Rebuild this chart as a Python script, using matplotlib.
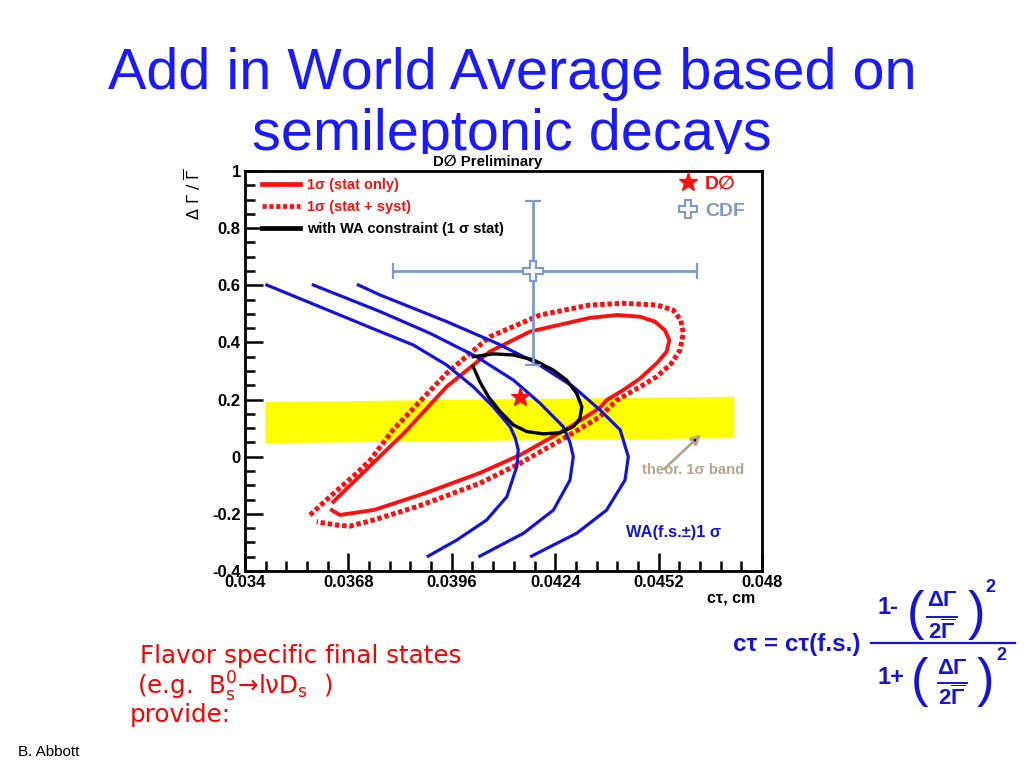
import matplotlib
matplotlib.use('Agg')
import matplotlib.pyplot as plt
from matplotlib.lines import Line2D
from matplotlib.patches import Rectangle
from matplotlib.ticker import AutoMinorLocator

plt.rcParams['font.family'] = ['Liberation Sans', 'DejaVu Sans']
plt.rcParams['mathtext.fontset'] = 'custom'
plt.rcParams['mathtext.rm'] = 'Liberation Sans:bold'
plt.rcParams['mathtext.it'] = 'Liberation Sans:bold'
plt.rcParams['mathtext.bf'] = 'Liberation Sans:bold'

# ---- data ----
# blue WA(f.s.) 1 sigma curves
wa1_x = [0.03459, 0.03766, 0.03856, 0.03946, 0.04018, 0.04072, 0.04118, 0.04132, 0.04140,
         0.04136, 0.04109, 0.04054, 0.03973, 0.03896]
wa1_y = [0.601, 0.438, 0.391, 0.321, 0.245, 0.175, 0.105, 0.065, 0.024,
         -0.035, -0.140, -0.222, -0.292, -0.348]
wa2_x = [0.03585, 0.03766, 0.03901, 0.04027, 0.04127, 0.04199, 0.04262, 0.04280, 0.04289,
         0.04280, 0.04235, 0.04154, 0.04036]
wa2_y = [0.601, 0.508, 0.432, 0.350, 0.268, 0.187, 0.105, 0.050, 0.000,
         -0.082, -0.187, -0.268, -0.348]
wa3_x = [0.03707, 0.03766, 0.03946, 0.04082, 0.04190, 0.04289, 0.04361, 0.04416,
         0.04438, 0.04429, 0.04379, 0.04298, 0.04176]
wa3_y = [0.601, 0.566, 0.473, 0.397, 0.327, 0.245, 0.164, 0.094,
         0.000, -0.082, -0.187, -0.268, -0.348]

# red 1 sigma (stat only)
stat_x = [0.03639, 0.03747, 0.03833, 0.03946, 0.04063, 0.04172, 0.04334, 0.04407,
          0.04470, 0.04510, 0.04537, 0.04549, 0.04542, 0.04515, 0.04470, 0.04424,
          0.04379, 0.04361, 0.04280, 0.04145, 0.04036, 0.03887, 0.03750, 0.03657,
          0.03635]
stat_y = [-0.158, -0.022, 0.086, 0.245, 0.368, 0.438, 0.486, 0.496,
          0.490, 0.473, 0.443, 0.408, 0.368, 0.327, 0.274, 0.233,
          0.198, 0.171, 0.104, 0.006, -0.057, -0.128, -0.186, -0.204,
          -0.187]

# red 1 sigma (stat + syst)
syst_x = [0.03576, 0.03630, 0.03702, 0.03739, 0.03801, 0.03946, 0.04063, 0.04199,
          0.04334, 0.04424, 0.04515, 0.04560, 0.04580, 0.04587, 0.04578, 0.04555,
          0.04515, 0.04470, 0.04407, 0.04361, 0.04271, 0.04145, 0.04036, 0.03901,
          0.03865, 0.03747, 0.03684, 0.03648, 0.03594]
syst_y = [-0.204, -0.140, -0.058, -0.012, 0.094, 0.292, 0.420, 0.496,
          0.531, 0.537, 0.531, 0.513, 0.478, 0.432, 0.373, 0.327,
          0.280, 0.245, 0.198, 0.140, 0.070, -0.023, -0.093, -0.158,
          -0.175, -0.222, -0.243, -0.239, -0.228]

# black: with WA constraint
wa_con_x = [0.04018, 0.04072, 0.04127, 0.04181, 0.04235, 0.04271, 0.04298, 0.04312,
            0.04307, 0.04289, 0.04253, 0.04208, 0.04163, 0.04127, 0.04091, 0.04059,
            0.04036, 0.04018]
wa_con_y = [0.350, 0.360, 0.356, 0.339, 0.303, 0.268, 0.222, 0.175,
            0.134, 0.105, 0.084, 0.080, 0.088, 0.111, 0.158, 0.210,
            0.262, 0.315]

# theory 1 sigma band
band_x = [0.03454, 0.04724]
band_lo = [0.049, 0.067]
band_hi = [0.193, 0.212]

# D0 point and CDF point
d0_x, d0_y = 0.04145, 0.210
cdf_x, cdf_y = 0.04179, 0.650
cdf_xerr = [[0.00378], [0.00445]]
cdf_yerr = [[0.329], [0.245]]

xticks = [0.034, 0.0368, 0.0396, 0.0424, 0.0452, 0.048]
xtick_labels = ['0.034', '0.0368', '0.0396', '0.0424', '0.0452', '0.048']
yticks = [-0.4, -0.2, 0, 0.2, 0.4, 0.6, 0.8, 1]
ytick_labels = ['-0.4', '-0.2', '0', '0.2', '0.4', '0.6', '0.8', '1']

RED = '#ff1010'
BLUE = '#1414dc'
CDFC = '#7b9bd2'
TITLEC = '#1a1aff'


def fx(x):
    return x / 1024.0


def fy(y):
    return 1 - y / 768.0


fig = plt.figure(figsize=(10.24, 7.68), dpi=100)
fig.patch.set_facecolor('white')

# title (bottom partly hidden behind the plot canvas, as in the slide)
fig.text(0.5, fy(89), 'Add in World Average based on', ha='center', va='baseline',
         fontsize=41.5, color=TITLEC, zorder=0.5)
fig.text(0.5, fy(150), 'semileptonic decays', ha='center', va='baseline',
         fontsize=41.5, color=TITLEC, zorder=0.5)
fig.patches.append(Rectangle((fx(180), fy(605)), fx(780) - fx(180), fy(154) - fy(605),
                             transform=fig.transFigure, facecolor='white',
                             edgecolor='none', zorder=1))

ax = fig.add_axes([fx(245), fy(571), fx(762) - fx(245), fy(171) - fy(571)])
ax.set_zorder(2)

ax.fill_between(band_x, band_lo, band_hi, color='#ffff00', lw=0, zorder=1)
l2, = ax.plot(syst_x, syst_y, color=RED, lw=3.6, ls=(0, (0.9, 0.55)), zorder=2,
              label='1σ (stat + syst)')
l1, = ax.plot(stat_x, stat_y, color=RED, lw=2.8, zorder=3, solid_joinstyle='round',
              label='1σ (stat only)')
for xs, ys in [(wa1_x, wa1_y), (wa2_x, wa2_y), (wa3_x, wa3_y)]:
    ax.plot(xs, ys, color=BLUE, lw=2.3, zorder=4, solid_joinstyle='round')
l3, = ax.plot(wa_con_x, wa_con_y, color='black', lw=2.4, zorder=5,
              solid_joinstyle='round', label='with WA constraint (1 σ stat)')

ax.errorbar([cdf_x], [cdf_y], xerr=cdf_xerr, yerr=cdf_yerr, fmt='P', ms=14,
            mfc='white', mec=CDFC, mew=1.6, ecolor=CDFC, elinewidth=2, capsize=6,
            capthick=2, zorder=6)
ax.plot([d0_x], [d0_y], marker='*', ms=14, color=RED, ls='none', zorder=7)

ax.annotate('', xy=(0.04635, 0.078), xytext=(0.04536, -0.042),
            arrowprops=dict(arrowstyle='-|>', mutation_scale=14, lw=2,
                            ec='#b8a58c', fc='black', shrinkA=0, shrinkB=0),
            zorder=6)
ax.text(0.04475, -0.047, 'theor. 1σ band', color='#b8a58c', fontsize=10.7,
        fontweight='bold', va='center', ha='left')
ax.text(0.04432, -0.264, 'WA(f.s.±)1 σ', color=BLUE, fontsize=11.8,
        fontweight='bold', va='center', ha='left')

ax.set_xlim(0.034, 0.048)
ax.set_ylim(-0.4, 1.0)
ax.set_xticks(xticks)
ax.set_xticklabels(xtick_labels)
ax.set_yticks(yticks)
ax.set_yticklabels(ytick_labels)
ax.xaxis.set_minor_locator(AutoMinorLocator(5))
ax.yaxis.set_minor_locator(AutoMinorLocator(4))
ax.tick_params(which='both', direction='in', width=1.8, labelsize=12)
ax.tick_params(which='major', length=13, pad=3)
ax.tick_params(which='minor', length=7)
for lab in ax.get_xticklabels() + ax.get_yticklabels():
    lab.set_fontweight('bold')
for sp in ax.spines.values():
    sp.set_linewidth(2)

leg1 = ax.legend(handles=[l1, l2, l3], loc='upper left', bbox_to_anchor=(0.033, 0.983),
                 frameon=False, handlelength=2.6, handletextpad=0.48, labelspacing=0.55,
                 borderpad=0, borderaxespad=0, prop={'weight': 'bold', 'size': 10.5})
for t, c in zip(leg1.get_texts(), [RED, RED, 'black']):
    t.set_color(c)
for h in leg1.legend_handles:
    h.set_linewidth(3.4)
ax.add_artist(leg1)

h_d0 = Line2D([], [], marker='*', ms=14, color=RED, ls='none')
h_cdf = Line2D([], [], marker='P', ms=13, mfc='white', mec=CDFC, mew=1.5, ls='none')
leg2 = ax.legend(handles=[h_d0, h_cdf], labels=['D∅', 'CDF'], loc='upper right',
                 bbox_to_anchor=(0.967, 0.99), frameon=False, handlelength=1.0,
                 handletextpad=0.4, labelspacing=0.5, borderpad=0, borderaxespad=0,
                 prop={'weight': 'bold', 'size': 14})
for t, c in zip(leg2.get_texts(), [RED, CDFC]):
    t.set_color(c)

ax.text(0.986, -0.068, 'cτ, cm', transform=ax.transAxes, ha='right', va='center',
        fontsize=11.5, fontweight='bold')

fig.text(fx(488), fy(162), 'D∅ Preliminary', ha='center', va='center', fontsize=10.8,
         fontweight='bold', zorder=3)
fig.text(fx(193), fy(168), r'$\Delta\ \Gamma\ /\ \overline{\Gamma}$', rotation=90,
         ha='center', va='top', fontsize=11.5, math_fontfamily='dejavusans', zorder=3)

# bottom text
red_txt = dict(color='#ff0000', fontsize=17.7, family=['DejaVu Sans'],
               math_fontfamily='dejavusans', va='baseline')
fig.text(fx(140), fy(663), 'Flavor specific final states', **red_txt)
fig.text(fx(137), fy(695), r'(e.g.  B$^0_\mathrm{s}$→lνD$_\mathrm{s}$  )', **red_txt)
fig.text(fx(130), fy(722), 'provide:', **red_txt)
fig.text(fx(18), fy(756), 'B. Abbott', fontsize=11, va='baseline', color='black')

# formula
fb = dict(color=BLUE, fontweight='bold', ha='center', va='center')
fig.text(fx(733), fy(645), 'cτ = cτ(f.s.)', color=BLUE, fontweight='bold', fontsize=17.5,
         ha='left', va='center')
fig.add_artist(Line2D([fx(871), fx(1015)], [fy(643), fy(643)], color=BLUE, lw=1.6))
fig.text(fx(888), fy(607), '1-', fontsize=17, **fb)
fig.text(fx(915), fy(615), '(', fontsize=38, color=BLUE, ha='center', va='center')
fig.text(fx(942), fy(601), r'$\Delta\Gamma$', fontsize=16, **fb)
fig.add_artist(Line2D([fx(927), fx(957)], [fy(617), fy(617)], color=BLUE, lw=1.4))
fig.text(fx(942), fy(632), r'$2\overline{\Gamma}$', fontsize=16, **fb)
fig.text(fx(976), fy(615), ')', fontsize=38, color=BLUE, ha='center', va='center')
fig.text(fx(990), fy(588), '2', fontsize=13, **fb)
fig.text(fx(891), fy(677), '1+', fontsize=17, **fb)
fig.text(fx(920), fy(682), '(', fontsize=38, color=BLUE, ha='center', va='center')
fig.text(fx(952), fy(668), r'$\Delta\Gamma$', fontsize=16, **fb)
fig.add_artist(Line2D([fx(938), fx(967)], [fy(683), fy(683)], color=BLUE, lw=1.4))
fig.text(fx(952), fy(698), r'$2\overline{\Gamma}$', fontsize=16, **fb)
fig.text(fx(985), fy(682), ')', fontsize=38, color=BLUE, ha='center', va='center')
fig.text(fx(1001), fy(655), '2', fontsize=13, **fb)

fig.savefig('out.png', dpi=100)
